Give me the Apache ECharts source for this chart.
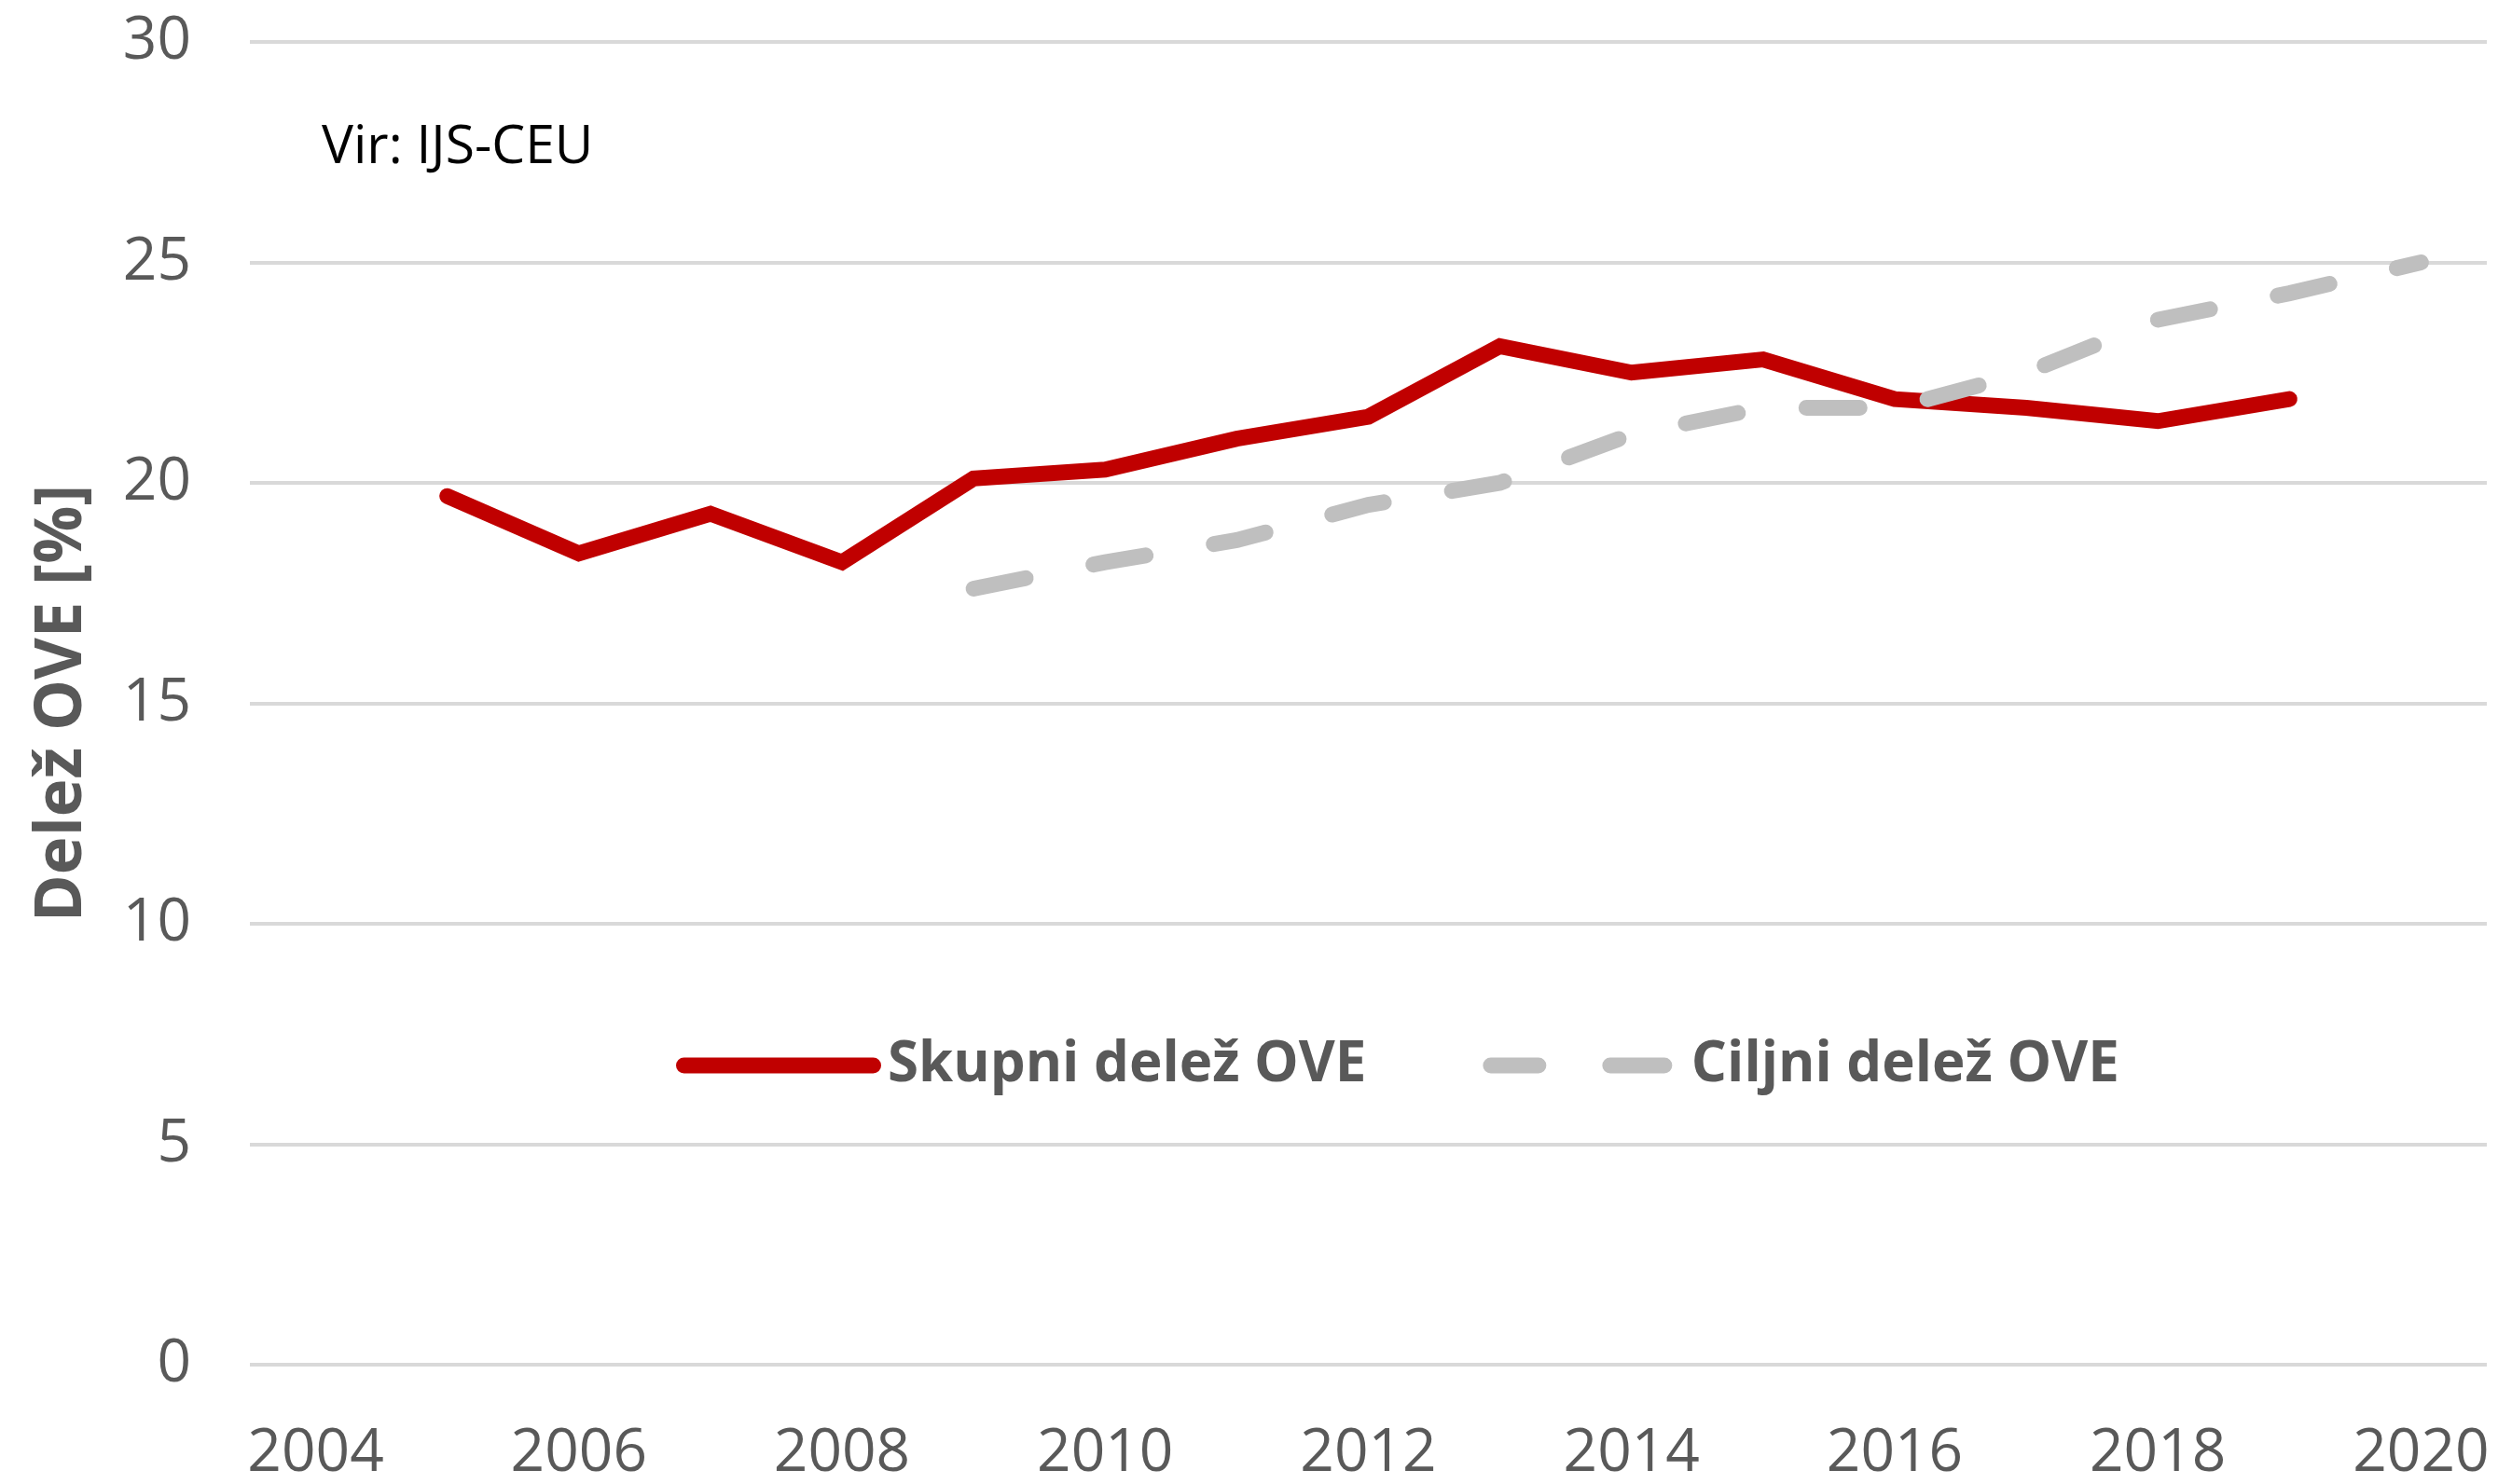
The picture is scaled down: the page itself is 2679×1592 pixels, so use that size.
<!DOCTYPE html>
<html>
<head>
<meta charset="utf-8">
<script src="https://cdn.jsdelivr.net/npm/echarts@6/dist/echarts.min.js"></script>
<style>
  html, body { margin: 0; padding: 0; background: #fff; }
  #chart { width: 2679px; height: 1592px; }
</style>
</head>
<body>
<div id="chart"></div>
<script>
const years = ['2004','2005','2006','2007','2008','2009','2010','2011','2012','2013','2014','2015','2016','2017','2018','2019','2020'];
const skupniDelez = [null, 19.7, 18.4, 19.3, 18.2, 20.1, 20.3, 21.0, 21.5, 23.1, 22.5, 22.8, 21.9, 21.7, 21.4, 21.9, null];
const ciljniDelez = [null, null, null, null, null, 17.6, 18.2, 18.7, 19.5, 20.0, 21.1, 21.7, 21.7, 22.5, 23.7, 24.3, 25.0];
const seriesNames = ['Skupni delež OVE', 'Ciljni delež OVE'];
const yTitle = 'Delež OVE [%]';
const sourceNote = 'Vir: IJS-CEU';

const FONT = "'Open Sans', 'Noto Sans', sans-serif";
// legend icons: a solid rounded stroke, and two rounded dashes
const solidIcon = 'path://M8.5,0 L211.5,0 A8.5,8.5 0 0 1 211.5,17 L8.5,17 A8.5,8.5 0 0 1 8.5,0 Z';
const dashIcon = 'path://M8.5,0 L59.5,0 A8.5,8.5 0 0 1 59.5,17 L8.5,17 A8.5,8.5 0 0 1 8.5,0 Z ' +
                 'M136.5,0 L194.5,0 A8.5,8.5 0 0 1 194.5,17 L136.5,17 A8.5,8.5 0 0 1 136.5,0 Z';

const chart = echarts.init(document.getElementById('chart'), null, { renderer: 'canvas' });
chart.setOption({
  animation: false,
  backgroundColor: '#ffffff',
  textStyle: { fontFamily: FONT },
  grid: { left: 268, right: 12, top: 45, bottom: 126, containLabel: false },
  graphic: [{
    type: 'text', left: 345, top: 130,
    style: { text: sourceNote, fontSize: 57, fontFamily: FONT, fill: '#000000' }
  }],
  legend: {
    left: 720, top: 1108,
    itemHeight: 17, itemGap: 125,
    textStyle: { fontSize: 60, fontWeight: 'bold', color: '#595959', fontFamily: FONT },
    data: [
      { name: seriesNames[0], icon: solidIcon, itemWidth: 220, textStyle: { padding: [0, 0, 0, 2] } },
      { name: seriesNames[1], icon: dashIcon, itemWidth: 203, textStyle: { padding: [0, 0, 0, 7] } }
    ],
    itemWidth: 220
  },
  xAxis: {
    type: 'category',
    data: years,
    boundaryGap: true,
    axisLine: { show: false },
    axisTick: { show: false },
    axisLabel: { interval: 1, fontSize: 64, color: '#595959', margin: 64, fontFamily: FONT }
  },
  yAxis: {
    type: 'value',
    min: 0, max: 30, interval: 5,
    name: yTitle,
    nameLocation: 'middle',
    nameRotate: 90,
    nameGap: 166,
    nameTextStyle: { fontSize: 69, fontWeight: 'bold', color: '#595959', fontFamily: FONT },
    axisLine: { show: false },
    axisTick: { show: false },
    axisLabel: { fontSize: 64, color: '#595959', margin: 63, fontFamily: FONT },
    splitLine: { lineStyle: { color: '#D9D9D9', width: 4 } }
  },
  series: [
    {
      name: seriesNames[0], type: 'line', data: skupniDelez,
      symbol: 'none', connectNulls: false,
      lineStyle: { color: '#C00000', width: 17, cap: 'round', join: 'miter' },
      itemStyle: { color: '#C00000' }
    },
    {
      name: seriesNames[1], type: 'line', data: ciljniDelez,
      symbol: 'none', connectNulls: false,
      lineStyle: { color: '#BFBFBF', width: 17, type: [57, 74], cap: 'round', join: 'miter' },
      itemStyle: { color: '#BFBFBF' }
    }
  ]
});
</script>
</body>
</html>
